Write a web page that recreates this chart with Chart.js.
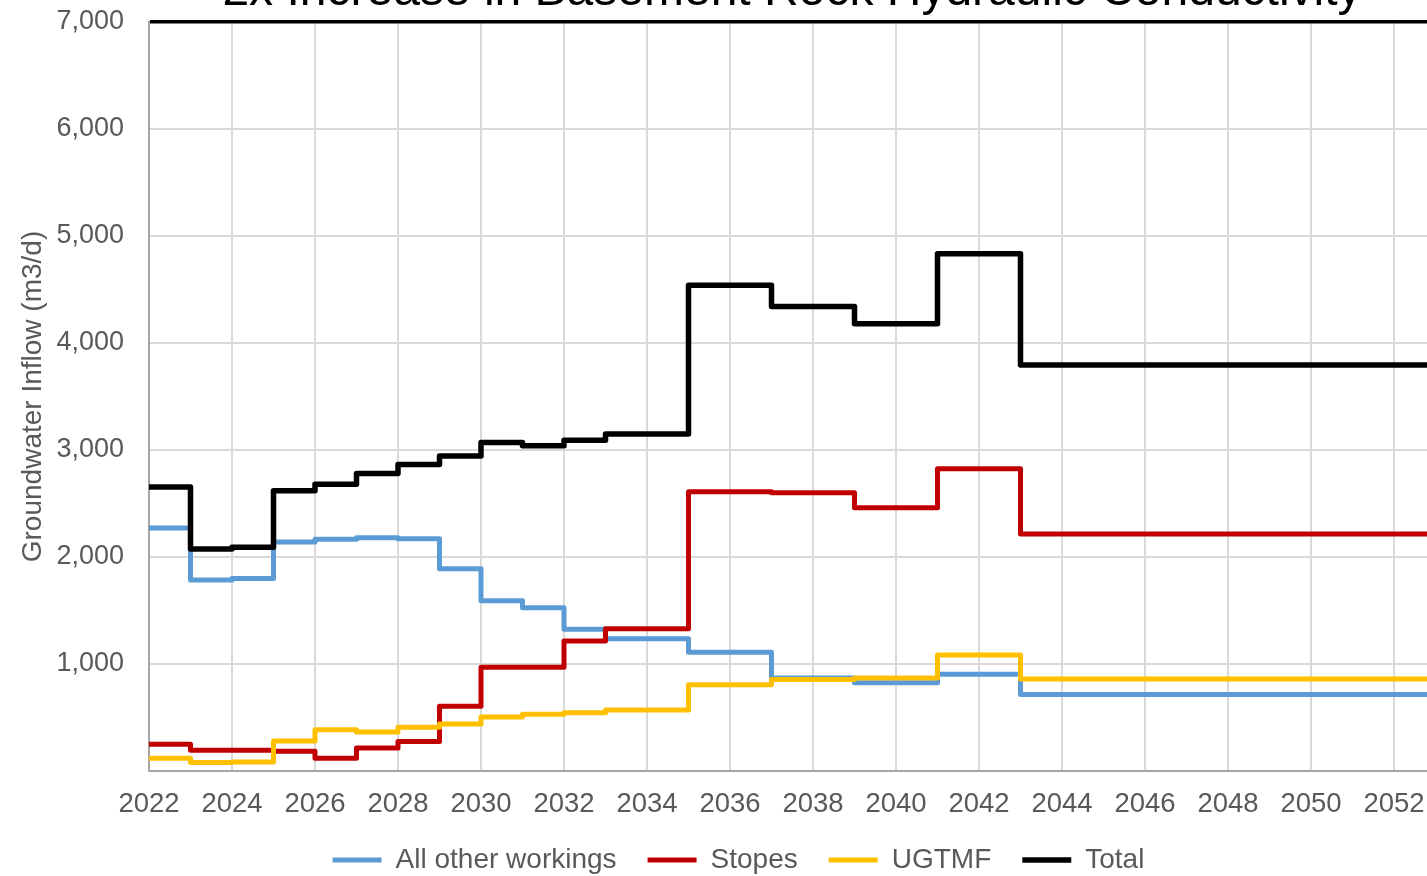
<!DOCTYPE html>
<html>
<head>
<meta charset="utf-8">
<title>Groundwater Inflow</title>
<script src="https://cdn.jsdelivr.net/npm/chart.js@4.4.0/dist/chart.umd.min.js"></script>
<style>
  html, body { margin: 0; padding: 0; background: #fff; overflow: hidden; }
  #wrap { width: 1483px; height: 876px; }
</style>
</head>
<body>
<div id="wrap"><canvas id="inflow-chart" width="1483" height="876"></canvas></div>
<script>
var chartTitle = '2x Increase in Basement Rock Hydraulic Conductivity';
var yTitle = 'Groundwater Inflow (m3/d)';

var years = [2022, 2023, 2024, 2025, 2026, 2027, 2028, 2029, 2030, 2031, 2032,
             2033, 2034, 2035, 2036, 2037, 2038, 2039, 2040, 2041, 2042, 2043,
             2044, 2045, 2046, 2047, 2048, 2049, 2050, 2051, 2052, 2053, 2054];

var otherWorkings = [2270, 1785, 1800, 2140, 2165, 2180, 2170, 1890, 1590, 1525, 1325,
                     1235, 1235, 1110, 1110, 870, 870, 825, 825, 905, 905, 715,
                     715, 715, 715, 715, 715, 715, 715, 715, 715, 715, 715];

var stopes = [250, 195, 195, 185, 120, 215, 275, 605, 970, 970, 1215,
              1330, 1330, 2610, 2610, 2600, 2600, 2460, 2460, 2825, 2825, 2215,
              2215, 2215, 2215, 2215, 2215, 2215, 2215, 2215, 2215, 2215, 2215];

var ugtmf = [120, 80, 85, 280, 385, 365, 410, 440, 505, 530, 545,
             570, 570, 805, 805, 855, 855, 870, 870, 1085, 1085, 860,
             860, 860, 860, 860, 860, 860, 860, 860, 860, 860, 860];

var total = [2655, 2075, 2090, 2620, 2680, 2780, 2865, 2945, 3070, 3040, 3090,
             3150, 3150, 4540, 4540, 4340, 4340, 4180, 4180, 4835, 4835, 3795,
             3795, 3795, 3795, 3795, 3795, 3795, 3795, 3795, 3795, 3795, 3795];

var seriesNames = ['All other workings', 'Stopes', 'UGTMF', 'Total'];
var seriesColors = ['#5b9bd5', '#c00000', '#ffc000', '#000000'];

var FONT = '"Liberation Sans", Arial, sans-serif';
var GREY_TEXT = '#595959';

function toPoints(values) {
    return years.map(function (yr, i) { return { x: yr, y: values[i] }; });
}

// each year's value holds until the next year, so step horizontally first
function makeSeries(i, values, width) {
    return {
        label: seriesNames[i],
        data: toPoints(values),
        borderColor: seriesColors[i],
        backgroundColor: seriesColors[i],
        borderWidth: width,
        borderCapStyle: 'round',
        borderJoinStyle: 'round',
        stepped: 'before',
        pointRadius: 0,
        fill: false,
        order: 4 - i   // later series sit on top
    };
}

// title text sits mostly above the canvas edge
var titlePlugin = {
    id: 'cutTitle',
    afterDraw: function (chart) {
        var ctx = chart.ctx;
        ctx.save();
        ctx.font = '48px ' + FONT;
        ctx.fillStyle = '#000';
        ctx.textAlign = 'center';
        ctx.textBaseline = 'alphabetic';
        ctx.fillText(chartTitle, 792, 5);
        ctx.restore();
    }
};

var ctx = document.getElementById('inflow-chart');

new Chart(ctx, {
    type: 'line',
    data: {
        datasets: [
            makeSeries(0, otherWorkings, 5),
            makeSeries(1, stopes, 5),
            makeSeries(2, ugtmf, 5),
            makeSeries(3, total, 5.5)
        ]
    },
    options: {
        responsive: false,
        animation: false,
        layout: { padding: { top: 22, right: 6, bottom: 0, left: 0 } },
        plugins: {
            legend: {
                position: 'bottom',
                maxHeight: 61,
                labels: {
                    usePointStyle: true,
                    pointStyle: 'line',
                    pointStyleWidth: 49,
                    padding: 31,
                    color: GREY_TEXT,
                    font: { family: FONT, size: 28 },
                    sort: function (a, b) { return a.datasetIndex - b.datasetIndex; }
                }
            },
            tooltip: { enabled: false }
        },
        scales: {
            x: {
                type: 'linear',
                min: 2022,
                max: 2054,
                afterFit: function (scale) {
                    scale.height = 44;
                    scale.paddingLeft = 0;
                    scale.paddingRight = 0;
                },
                grid: {
                    drawTicks: false,
                    lineWidth: 2,
                    color: function (c) {
                        return c.tick && c.tick.value === 2022 ? 'rgba(0,0,0,0)' : '#d9d9d9';
                    }
                },
                border: { color: '#a6a6a6', width: 2 },
                ticks: {
                    stepSize: 2,
                    maxRotation: 0,
                    autoSkip: false,
                    padding: 20,
                    color: GREY_TEXT,
                    font: { family: FONT, size: 27.5, lineHeight: 1 },
                    callback: function (v) { return String(v); }
                }
            },
            y: {
                min: 0,
                max: 7000,
                afterFit: function (scale) {
                    scale.width = 149;
                    scale.paddingTop = 0;
                    scale.paddingBottom = 0;
                },
                grid: {
                    drawTicks: false,
                    lineWidth: function (c) {
                        return c.tick && c.tick.value === 7000 ? 3.5 : 2;
                    },
                    color: function (c) {
                        if (!c.tick) return '#d9d9d9';
                        if (c.tick.value === 7000) return '#000000';
                        if (c.tick.value === 0) return 'rgba(0,0,0,0)';
                        return '#d9d9d9';
                    }
                },
                border: { color: '#a6a6a6', width: 2 },
                ticks: {
                    stepSize: 1000,
                    padding: 25,
                    color: GREY_TEXT,
                    font: { family: FONT, size: 27 },
                    callback: function (v) {
                        return v === 0 ? '' : v.toLocaleString('en-US');
                    }
                },
                title: {
                    display: true,
                    text: yTitle,
                    color: GREY_TEXT,
                    font: { family: FONT, size: 28 },
                    padding: { top: 16, bottom: 0 }
                }
            }
        }
    },
    plugins: [titlePlugin]
});
</script>
</body>
</html>
